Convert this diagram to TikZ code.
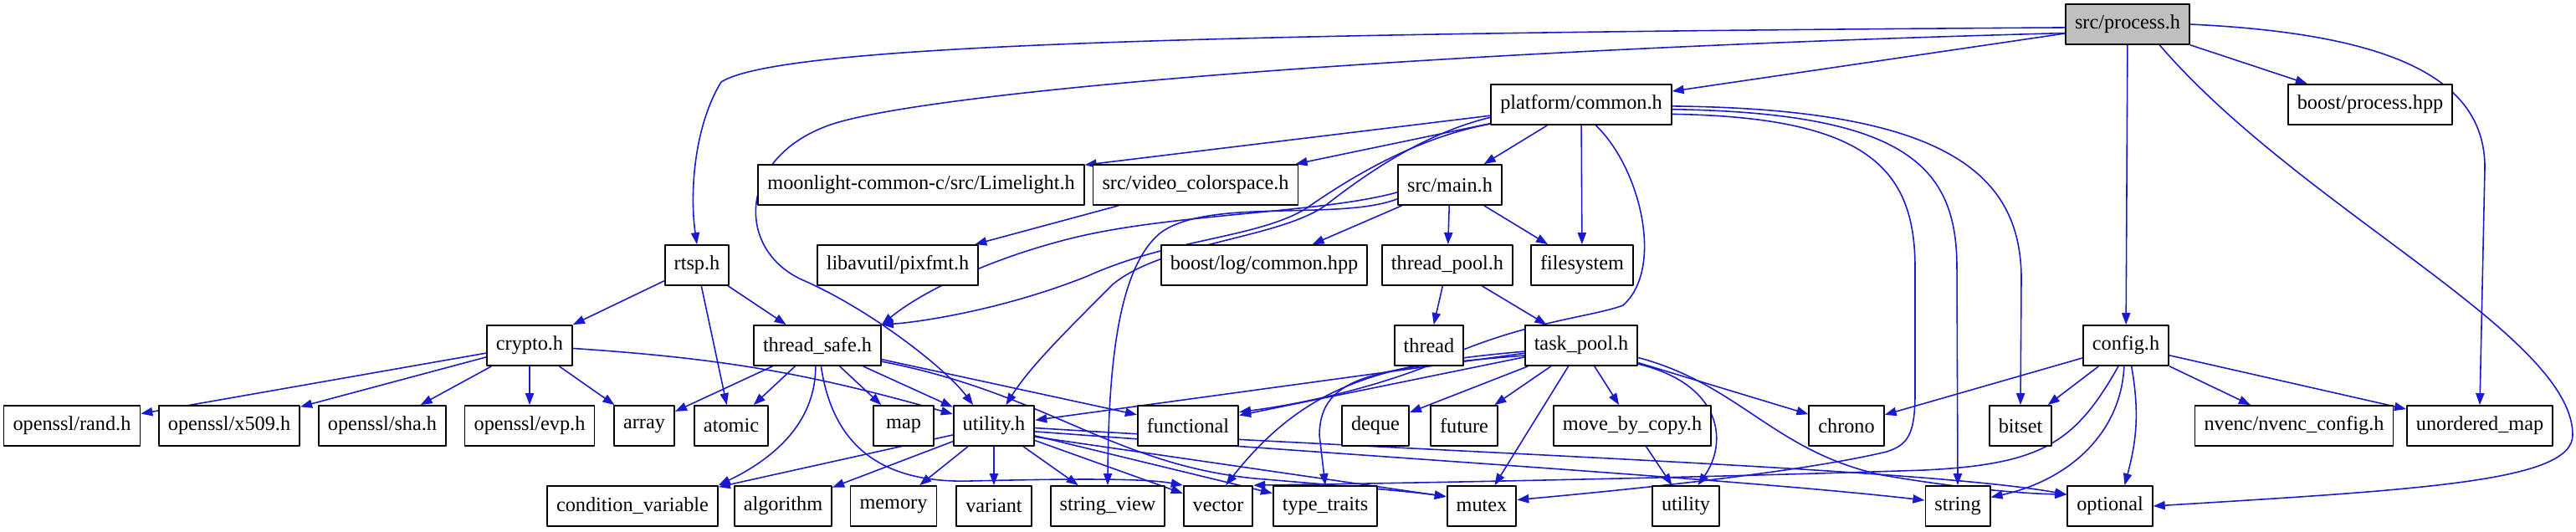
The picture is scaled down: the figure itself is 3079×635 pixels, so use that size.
\documentclass[tikz,border=0pt]{standalone}
\usepackage{fontspec}
\setmainfont{Liberation Serif}
\usetikzlibrary{arrows.meta}
\definecolor{incl}{HTML}{1A1ACD}
\definecolor{rootfill}{HTML}{BFBFBF}
\pgfdeclarelayer{edges}
\pgfsetlayers{edges,main}

\begin{document}
\begin{tikzpicture}[x=0.01cm,y=-0.01cm,line join=round,
  hdr/.style={draw=black,fill=white,line width=0.5pt,minimum height=0.48cm,minimum width=0.72cm,
    inner xsep=0.11cm,inner ysep=0pt,font=\fontsize{6.9}{8}\selectfont},
  hdrroot/.style={hdr,fill=rootfill},
  inc/.style={-{Triangle[length=4pt,width=2.9pt]},draw=incl,line width=0.45pt}]
  \useasboundingbox (0,0) rectangle (3079,635);

  % ---- row 0: the file itself ----
  \node[hdrroot] (process) at (2543,29) {src/process.h};

  % ---- row 1 ----
  \node[hdr] (platform) at (1890,125) {platform/common.h};
  \node[hdr] (bproc) at (2833,125) {boost/process.hpp};

  % ---- row 2 ----
  \node[hdr] (limelight) at (1101,221) {moonlight-common-c/src/Limelight.h};
  \node[hdr] (vcs) at (1429,221) {src/video\_colorspace.h};
  \node[hdr] (mainh) at (1733,221) {src/main.h};

  % ---- row 3 ----
  \node[hdr] (rtsp) at (833,317) {rtsp.h};
  \node[hdr] (pixfmt) at (1073,317) {libavutil/pixfmt.h};
  \node[hdr] (blog) at (1511,317) {boost/log/common.hpp};
  \node[hdr] (tpool) at (1730,317) {thread\_pool.h};
  \node[hdr] (fsys) at (1891,317) {filesystem};

  % ---- row 4 ----
  \node[hdr] (crypto) at (633,413) {crypto.h};
  \node[hdr] (tsafe) at (977,413) {thread\_safe.h};
  \node[hdr] (thread) at (1708,413) {thread};
  \node[hdr] (taskp) at (1890,413) {task\_pool.h};
  \node[hdr] (config) at (2541,413) {config.h};

  % ---- row 5 ----
  \node[hdr] (rand) at (86,509) {openssl/rand.h};
  \node[hdr] (x509) at (274,509) {openssl/x509.h};
  \node[hdr] (sha) at (457,509) {openssl/sha.h};
  \node[hdr] (evp) at (633,509) {openssl/evp.h};
  \node[hdr] (array) at (770,509) {array};
  \node[hdr] (atomic) at (874,509) {atomic};
  \node[hdr] (map) at (1080,509) {map};
  \node[hdr] (utilh) at (1188,509) {utility.h};
  \node[hdr] (functional) at (1420,509) {functional};
  \node[hdr] (deque) at (1644,509) {deque};
  \node[hdr] (future) at (1750,509) {future};
  \node[hdr] (mbc) at (1951,509) {move\_by\_copy.h};
  \node[hdr] (chrono) at (2207,509) {chrono};
  \node[hdr] (bitset) at (2415,509) {bitset};
  \node[hdr] (nvenc) at (2742,509) {nvenc/nvenc\_config.h};
  \node[hdr] (umap) at (2964,509) {unordered\_map};

  % ---- row 6 ----
  \node[hdr] (condvar) at (756,605) {condition\_variable};
  \node[hdr] (algorithm) at (936,605) {algorithm};
  \node[hdr] (memory) at (1068,605) {memory};
  \node[hdr] (variant) at (1188,605) {variant};
  \node[hdr] (strview) at (1324,605) {string\_view};
  \node[hdr] (vector) at (1456,605) {vector};
  \node[hdr] (typetr) at (1584,605) {type\_traits};
  \node[hdr] (mutex) at (1771,605) {mutex};
  \node[hdr] (utility) at (2015,605) {utility};
  \node[hdr] (string) at (2340,605) {string};
  \node[hdr] (optional) at (2522,605) {optional};

  \begin{pgfonlayer}{edges}
  \fill[white] (0,0) rectangle (3079,635);

  % ---- src/process.h ----
  \draw[inc] (process) -- (platform);
  \draw[inc] (process) -- (bproc);
  \draw[inc] (process) -- (config);
  \draw[inc] (process.183) .. controls (1400,40) and (930,55) .. (862,98) .. controls (830,150) and (824,230) .. (rtsp.north);
  \draw[inc] (process.188) .. controls (1700,60) and (1100,110) .. (990,150) .. controls (880,190) and (880,300) .. (960,335) .. controls (1040,370) and (1130,440) .. (utilh.135);
  \draw[inc] (process.-33) .. controls (2750,250) and (3075,400) .. (3075,520) .. controls (3075,575) and (2900,585) .. (optional.east);
  \draw[inc] (process.east) .. controls (2850,40) and (2970,90) .. (2970,200) -- (umap.north);

  % ---- platform/common.h ----
  \draw[inc] (platform) -- (limelight);
  \draw[inc] (platform) -- (vcs);
  \draw[inc] (platform) -- (mainh);
  \draw[inc] (platform) -- (fsys);
  \draw[inc] (platform.192) .. controls (1690,165) and (1610,215) .. (1560,250) .. controls (1500,285) and (1400,285) .. (1300,330) .. controls (1200,370) and (1100,385) .. (tsafe.north east);
  \draw[inc] (platform.188) .. controls (1700,160) and (1630,210) .. (1585,245) .. controls (1530,285) and (1390,290) .. (1330,340) .. controls (1270,400) and (1230,440) .. (utilh.60);
  \draw[inc] (platform.-55) .. controls (1960,200) and (1990,320) .. (1940,365) .. controls (1900,380) and (1810,385) .. (1700,440) .. controls (1620,470) and (1540,485) .. (functional.15);
  \draw[inc] (platform.-6) .. controls (2230,140) and (2289,200) .. (2289,320) -- (2289,470) .. controls (2289,520) and (2280,532) .. (2255,540) .. controls (2150,565) and (1950,585) .. (mutex.10);
  \draw[inc] (platform.-3) .. controls (2280,135) and (2339,200) .. (2339,320) -- (string.north);
  \draw[inc] (platform.-1) .. controls (2330,130) and (2414,210) .. (2416,330) -- (bitset.north);

  % ---- src/main.h and the row below ----
  \draw[inc] (mainh) -- (blog);
  \draw[inc] (mainh) -- (tpool);
  \draw[inc] (mainh) -- (fsys);
  \draw[inc] (mainh.188) .. controls (1580,255) and (1400,255) .. (1280,285) .. controls (1180,310) and (1100,350) .. (tsafe.north east);
  \draw[inc] (mainh.195) .. controls (1600,265) and (1440,235) .. (1385,280) .. controls (1340,320) and (1325,420) .. (strview.north);
  \draw[inc] (vcs) -- (pixfmt);
  \draw[inc] (tpool) -- (thread);
  \draw[inc] (tpool) -- (taskp);

  % ---- rtsp.h, crypto.h ----
  \draw[inc] (rtsp) -- (crypto);
  \draw[inc] (rtsp) -- (tsafe);
  \draw[inc] (rtsp) -- (atomic);
  \foreach \dst in {rand,x509,sha,evp,array}{\draw[inc] (crypto) -- (\dst);}
  \draw[inc] (crypto) to[bend left=6] (utilh);

  % ---- thread_safe.h ----
  \foreach \dst in {array,atomic,map,utilh,functional}{\draw[inc] (tsafe) -- (\dst);}
  \draw[inc] (tsafe.-95) .. controls (975,520) and (900,560) .. (condvar.north east);
  \draw[inc] (tsafe.-80) .. controls (995,530) and (1050,578) .. (1160,575) .. controls (1290,572) and (1370,572) .. (vector.north west);
  \draw[inc] (tsafe.-14) .. controls (1250,470) and (1330,555) .. (1500,572) .. controls (1620,582) and (1690,588) .. (mutex.165);

  % ---- utility.h ----
  \foreach \dst in {condvar,algorithm,memory,variant,strview,vector,typetr}{\draw[inc] (utilh) -- (\dst);}
  \draw[inc] (utilh.-15) -- (mutex.165);
  \draw[inc] (utilh.-8) .. controls (1700,550) and (2100,575) .. (string.170);
  \draw[inc] (utilh.-3) .. controls (1700,540) and (2300,560) .. (optional.165);

  % ---- task_pool.h ----
  \foreach \dst in {utilh,functional,deque,future,mbc,mutex,chrono}{\draw[inc] (taskp) -- (\dst);}
  \draw[inc] (taskp.186) .. controls (1650,435) and (1560,460) .. (vector.70);
  \draw[inc] (taskp.190) .. controls (1640,440) and (1578,450) .. (1577,520) -- (typetr.north);
  \draw[inc] (taskp.-12) .. controls (2080,460) and (2120,540) .. (2250,568) .. controls (2350,585) and (2420,590) .. (optional.165);
  \draw[inc] (taskp.-18) .. controls (2060,460) and (2065,530) .. (utility.60);
  \draw[inc] (mbc) -- (utility);

  % ---- config.h ----
  \foreach \dst in {chrono,bitset,nvenc,umap}{\draw[inc] (config) -- (\dst);}
  \draw[inc] (config.-75) to[out=-80,in=75] (optional.55);
  \draw[inc] (config.-95) .. controls (2535,520) and (2470,575) .. (string.15);
  \draw[inc] (config.-110) .. controls (2480,530) and (2440,555) .. (2300,562) .. controls (2000,572) and (1650,578) .. (vector.north east);
  \end{pgfonlayer}
\end{tikzpicture}
\end{document}
